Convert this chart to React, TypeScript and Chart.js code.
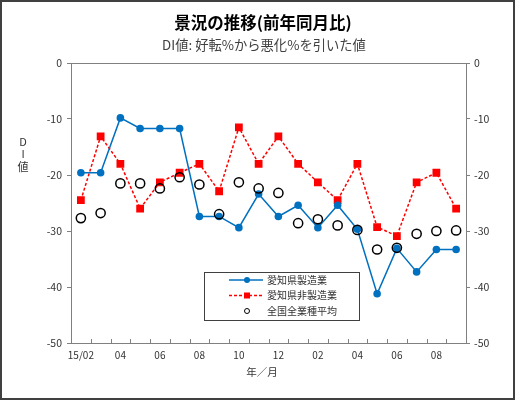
import React, { useEffect, useRef } from "react";
import { Chart, registerables } from "chart.js";

Chart.register(...registerables);

const categories = [
  "15/02", "03", "04", "05", "06", "07", "08", "09", "10", "11",
  "12", "01", "02", "03", "04", "05", "06", "07", "08", "09",
];
const shownTickLabels = ["15/02", "04", "06", "08", "10", "12", "02", "04", "06", "08"];

const aichiManufacturing = [
  -19.6, -19.6, -9.8, -11.7, -11.7, -11.7, -27.4, -27.4, -29.4, -23.4,
  -27.4, -25.4, -29.4, -25.4, -29.7, -41.2, -33.1, -37.3, -33.3, -33.3,
];
const aichiNonManufacturing = [
  -24.5, -13.1, -18.0, -26.0, -21.3, -19.6, -18.0, -22.9, -11.5, -18.0,
  -13.1, -18.0, -21.3, -24.5, -18.0, -29.3, -30.9, -21.3, -19.6, -26.0,
];
const nationalAverage = [
  -27.7, -26.8, -21.5, -21.5, -22.4, -20.4, -21.7, -27.0, -21.3, -22.4,
  -23.2, -28.6, -27.9, -29.0, -29.8, -33.3, -33.0, -30.5, -30.0, -29.9,
];

const seriesNames = ["愛知県製造業", "愛知県非製造業", "全国全業種平均"];
const titleText = "景況の推移(前年同月比)";
const subtitleText = "DI値: 好転%から悪化%を引いた値";
const yTitleChars = ["D", "I", "値"];
const xTitleText = "年／月";

const FONT = "'Noto Sans CJK JP', 'Noto Sans', sans-serif";
const BLUE = "#0070C0";
const RED = "#FF0000";
const AXIS = "#808080";
const TEXT = "#333333";

const decorPlugin = {
  id: "decor",
  beforeDraw(chart: any) {
    const ctx = chart.ctx;
    ctx.save();
    ctx.fillStyle = "#ffffff";
    ctx.fillRect(0, 0, chart.width, chart.height);
    ctx.restore();
  },
  afterDraw(chart: any) {
    const ctx = chart.ctx;
    const area = chart.chartArea;
    const xs = chart.scales.x;
    ctx.save();
    // plot box
    ctx.strokeStyle = AXIS;
    ctx.lineWidth = 1;
    ctx.strokeRect(Math.round(area.left) + 0.5, Math.round(area.top) + 0.5,
      Math.round(area.right - area.left), Math.round(area.bottom - area.top));
    // inward x tick marks between categories
    const n = categories.length;
    const step = xs.getPixelForValue(1) - xs.getPixelForValue(0);
    ctx.beginPath();
    for (let i = 1; i < n; i++) {
      const px = Math.round(xs.getPixelForValue(i) - step / 2) + 0.5;
      ctx.moveTo(px, area.bottom);
      ctx.lineTo(px, area.bottom - 4);
    }
    ctx.stroke();

    // titles
    ctx.fillStyle = "#000000";
    ctx.textAlign = "center";
    ctx.textBaseline = "middle";
    ctx.font = `bold 16.5px ${FONT}`;
    ctx.fillText(titleText, 263, 23);
    ctx.fillStyle = "#404040";
    ctx.font = `13.3px ${FONT}`;
    ctx.fillText(subtitleText, 264, 45);

    // y title stacked
    ctx.fillStyle = TEXT;
    ctx.font = `11px ${FONT}`;
    const ys = [142, 154, 167];
    yTitleChars.forEach((c, i) => ctx.fillText(c, 23, ys[i]));

    // x title
    ctx.font = `10.5px ${FONT}`;
    ctx.fillText(xTitleText, 262, 372);

    // legend
    const lx = 204, ly = 272, lw = 155, lh = 48;
    ctx.fillStyle = "#ffffff";
    ctx.fillRect(lx, ly, lw, lh);
    ctx.strokeStyle = "#404040";
    ctx.lineWidth = 1;
    ctx.strokeRect(lx + 0.5, ly + 0.5, lw, lh);
    const rows = [280, 295.5, 311];
    const x1 = 229, x2 = 263, mx = 247;
    // row 1
    ctx.strokeStyle = BLUE;
    ctx.lineWidth = 1.5;
    ctx.setLineDash([]);
    ctx.beginPath();
    ctx.moveTo(x1, rows[0]);
    ctx.lineTo(x2, rows[0]);
    ctx.stroke();
    ctx.fillStyle = BLUE;
    ctx.beginPath();
    ctx.arc(mx, rows[0], 3, 0, Math.PI * 2);
    ctx.fill();
    // row 2
    ctx.strokeStyle = RED;
    ctx.setLineDash([3, 2]);
    ctx.beginPath();
    ctx.moveTo(x1, rows[1]);
    ctx.lineTo(x2, rows[1]);
    ctx.stroke();
    ctx.setLineDash([]);
    ctx.fillStyle = RED;
    ctx.fillRect(mx - 3, rows[1] - 3, 6, 6);
    // row 3
    ctx.strokeStyle = "#000000";
    ctx.lineWidth = 1;
    ctx.beginPath();
    ctx.arc(mx, rows[2], 2.5, 0, Math.PI * 2);
    ctx.stroke();
    // legend text
    ctx.fillStyle = TEXT;
    ctx.font = `10px ${FONT}`;
    ctx.textAlign = "left";
    seriesNames.forEach((s, i) => ctx.fillText(s, 267, rows[i]));

    // outer border
    ctx.strokeStyle = "#404040";
    ctx.lineWidth = 2;
    ctx.strokeRect(1, 1, chart.width - 2, chart.height - 2);
    ctx.restore();
  },
};

export default function App() {
  const ref = useRef<HTMLCanvasElement | null>(null);

  useEffect(() => {
    document.body.style.margin = "0";
    document.body.style.overflow = "hidden";
    if (!ref.current) return;
    const chart = new Chart(ref.current, {
      type: "line",
      data: {
        labels: categories,
        datasets: [
          {
            label: seriesNames[0],
            data: aichiManufacturing,
            borderColor: BLUE,
            backgroundColor: BLUE,
            borderWidth: 1.5,
            pointStyle: "circle",
            pointRadius: 3.8,
            pointBorderWidth: 0,
            pointBackgroundColor: BLUE,
            yAxisID: "y",
            order: 1,
          },
          {
            label: seriesNames[1],
            data: aichiNonManufacturing,
            borderColor: RED,
            backgroundColor: RED,
            borderWidth: 1.5,
            borderDash: [3, 2],
            pointStyle: "rect",
            pointRadius: 5.5,
            pointBorderWidth: 0,
            pointBackgroundColor: RED,
            yAxisID: "y",
            order: 2,
          },
          {
            label: seriesNames[2],
            data: nationalAverage,
            showLine: false,
            borderColor: "#000000",
            backgroundColor: "rgba(0,0,0,0)",
            pointStyle: "circle",
            pointRadius: 4.6,
            pointBorderWidth: 1.5,
            pointBorderColor: "#000000",
            pointBackgroundColor: "rgba(0,0,0,0)",
            yAxisID: "y",
            order: 0,
          },
        ],
      },
      options: {
        responsive: false,
        animation: false,
        devicePixelRatio: 1,
        layout: { padding: { top: 63, left: 0, right: 0, bottom: 0 } },
        plugins: {
          legend: { display: false },
          title: { display: false },
          tooltip: { enabled: false },
        },
        scales: {
          x: {
            type: "category",
            offset: true,
            grid: { display: false, drawTicks: false },
            border: { display: true, color: AXIS, width: 1 },
            ticks: {
              autoSkip: false,
              maxRotation: 0,
              minRotation: 0,
              padding: 6,
              color: TEXT,
              font: { family: FONT, size: 10 },
              callback: (_v: any, i: number) =>
                i % 2 === 0 ? shownTickLabels[i / 2] : "",
            },
            afterFit: (s: any) => {
              s.height = 57;
            },
          },
          y: {
            position: "left",
            min: -50,
            max: 0,
            grid: {
              display: true,
              drawOnChartArea: false,
              drawTicks: true,
              tickLength: 4,
              color: AXIS,
            },
            border: { display: true, color: AXIS, width: 1 },
            ticks: {
              stepSize: 10,
              padding: 5,
              color: TEXT,
              font: { family: FONT, size: 10.5 },
            },
            afterFit: (s: any) => {
              s.width = 71;
            },
          },
          y2: {
            position: "right",
            min: -50,
            max: 0,
            grid: {
              display: true,
              drawOnChartArea: false,
              drawTicks: true,
              tickLength: 4,
              color: AXIS,
            },
            border: { display: true, color: AXIS, width: 1 },
            ticks: {
              stepSize: 10,
              padding: 4,
              color: TEXT,
              font: { family: FONT, size: 10.5 },
            },
            afterFit: (s: any) => {
              s.width = 49;
            },
          },
        },
      },
      plugins: [decorPlugin],
    } as any);
    return () => chart.destroy();
  }, []);

  return (
    <div style={{ position: "absolute", left: 0, top: 0, width: 515, height: 400 }}>
      <canvas ref={ref} width={515} height={400} style={{ display: "block" }} />
    </div>
  );
}
